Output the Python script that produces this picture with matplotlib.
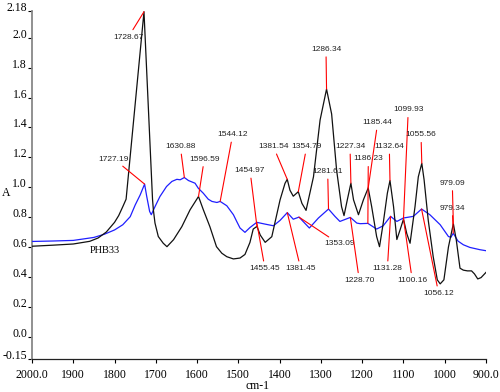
import matplotlib
matplotlib.use("Agg")
import matplotlib.pyplot as plt
import numpy as np

# spettro nero (campione)
black_wn = [2000, 1950, 1900, 1860, 1840, 1820, 1800, 1790, 1780, 1772, 1728.67, 1708, 1706, 1702,
            1694, 1682, 1673, 1657, 1637, 1617, 1596.59, 1585, 1569, 1553, 1540, 1528, 1512, 1496,
            1484, 1472, 1464, 1454.97, 1447, 1435, 1419, 1399, 1387, 1381.54, 1375, 1367, 1354.79,
            1346, 1336, 1318, 1302, 1286.34, 1274, 1262, 1250, 1244, 1236, 1227.34, 1221, 1209,
            1197, 1185.44, 1177, 1165, 1158, 1149, 1139, 1132.64, 1124, 1116, 1108, 1099.93, 1092,
            1084, 1072, 1064, 1055.56, 1050, 1040, 1028, 1018, 1011, 1002, 991, 979.09, 972, 963,
            955, 945, 935, 928, 920, 912, 900]
black_abs = [0.605, 0.612, 0.62, 0.638, 0.66, 0.70, 0.765, 0.81, 0.87, 0.92, 2.175, 0.92, 0.85, 0.76,
             0.67, 0.625, 0.602, 0.649, 0.736, 0.849, 0.938, 0.85, 0.736, 0.602, 0.558, 0.535, 0.52,
             0.526, 0.55, 0.63, 0.72, 0.738, 0.68, 0.631, 0.669, 0.915, 1.026, 1.053, 0.98, 0.94,
             0.97, 0.892, 0.845, 1.07, 1.45, 1.657, 1.49, 1.115, 0.87, 0.81, 0.916, 1.027, 0.916,
             0.816, 0.916, 0.995, 0.87, 0.67, 0.602, 0.76, 0.96, 1.045, 0.87, 0.65, 0.716, 0.786,
             0.69, 0.625, 0.87, 1.07, 1.16, 1.05, 0.78, 0.536, 0.38, 0.353, 0.38, 0.60, 0.756,
             0.647, 0.458, 0.445, 0.44, 0.44, 0.42, 0.386, 0.395, 0.43]

# spettro blu (riferimento)
blue_wn = [2000, 1950, 1900, 1850, 1825, 1800, 1780, 1762, 1750, 1738, 1727.19, 1722, 1715, 1711,
           1702, 1690, 1674, 1661, 1649, 1641, 1630.88, 1621, 1605, 1597, 1585, 1573, 1564, 1552,
           1544.12, 1528, 1512, 1504, 1496, 1484, 1472, 1455.45, 1435, 1415, 1399, 1381.45, 1367,
           1353.09, 1328, 1306, 1281.61, 1266, 1254, 1228.70, 1213, 1205, 1186.23, 1165, 1149,
           1131.28, 1116, 1100.16, 1076, 1056.12, 1036, 1011, 991, 985, 979.34, 968, 955, 939,
           915, 900]
blue_abs = [0.637, 0.64, 0.644, 0.664, 0.685, 0.714, 0.749, 0.803, 0.881, 0.948, 1.021, 0.938, 0.838,
            0.816, 0.87, 0.938, 1.005, 1.039, 1.053, 1.05, 1.065, 1.045, 1.027, 0.993, 0.96, 0.92,
            0.905, 0.898, 0.905, 0.876, 0.816, 0.771, 0.727, 0.698, 0.73, 0.765, 0.753, 0.742,
            0.778, 0.83, 0.786, 0.80, 0.727, 0.794, 0.854, 0.805, 0.771, 0.798, 0.76, 0.756,
            0.758, 0.72, 0.742, 0.805, 0.771, 0.794, 0.805, 0.854, 0.816, 0.749, 0.67, 0.665,
            0.692, 0.64, 0.615, 0.597, 0.582, 0.575]

# etichette dei picchi: testo, curva, posizione del testo (cm-1, A)
peak_labels = ["1728.67", "1727.19", "1630.88", "1596.59", "1544.12", "1454.97", "1381.54",
               "1354.79", "1286.34", "1281.61", "1227.34", "1186.23", "1185.44", "1132.64",
               "1099.93", "1055.56", "979.09", "979.34", "1455.45", "1381.45", "1353.09",
               "1228.70", "1131.28", "1100.16", "1056.12"]
peak_curve = ["k", "b", "b", "k", "b", "k", "k", "k", "k", "b", "k", "b", "k", "k", "k", "k",
              "k", "b", "b", "b", "b", "b", "b", "b", "b"]
label_x = [1766.7, 1801.3, 1640.7, 1582.5, 1513.7, 1471.8, 1415.4, 1334.4, 1287.7, 1283.6,
           1229.5, 1185.2, 1162.4, 1134.3, 1088.3, 1057.5, 981.7, 981.7, 1435.5, 1349.0,
           1255.4, 1207.0, 1139.0, 1078.6, 1014.6]
label_y = [2.005, 1.189, 1.273, 1.189, 1.353, 1.112, 1.273, 1.273, 1.924, 1.106, 1.273, 1.19,
           1.433, 1.273, 1.518, 1.351, 1.028, 0.861, 0.455, 0.455, 0.62, 0.377, 0.455, 0.377,
           0.288]

y_ticks = [-0.15, 0.0, 0.2, 0.4, 0.6, 0.8, 1.0, 1.2, 1.4, 1.6, 1.8, 2.0, 2.18]
y_tick_labels = ["-0.15", "0.0", "0.2", "0.4", "0.6", "0.8", "1.0", "1.2", "1.4", "1.6", "1.8",
                 "2.0", "2.18"]
x_ticks = [2000, 1900, 1800, 1700, 1600, 1500, 1400, 1300, 1200, 1100, 1000, 900]
x_tick_labels = ["2000.0", "1900", "1800", "1700", "1600", "1500", "1400", "1300", "1200",
                 "1100", "1000", "900.0"]

serif = "Liberation Serif"
sans = "Liberation Sans"

fig = plt.figure(figsize=(5.0, 3.92), dpi=100)
ax = fig.add_axes([32 / 500, 1 - 359 / 392, 454 / 500, 348 / 392])

ax.plot(blue_wn, blue_abs, color="#1f1fff", lw=0.9, zorder=3)
ax.plot(black_wn, black_abs, color="#111111", lw=0.9, zorder=4)

# annotazioni con linee rosse verso i picchi
for lab, cv, tx, ty in zip(peak_labels, peak_curve, label_x, label_y):
    wn = float(lab)
    if cv == "k":
        yy = np.interp(wn, black_wn[::-1], black_abs[::-1])
    else:
        yy = np.interp(wn, blue_wn[::-1], blue_abs[::-1])
    ax.annotate(lab, xy=(wn, yy), xytext=(tx, ty), textcoords="data",
                ha="center", va="center", fontsize=6, family=sans, color="#222222",
                arrowprops=dict(arrowstyle="-", color="red", lw=0.8, shrinkA=1, shrinkB=0),
                zorder=5)

ax.text(1823, 0.577, "PHB33", family=serif, fontsize=7.5, ha="center", va="center")

ax.set_xlim(2000, 900)
ax.set_ylim(-0.15, 2.18)
ax.set_xticks(x_ticks)
ax.set_xticklabels(x_tick_labels, family=serif, fontsize=8.5)
ax.set_yticks(y_ticks)
ax.set_yticklabels(y_tick_labels, family=serif, fontsize=8.5)
for lbl in ax.get_yticklabels():
    lbl.set_verticalalignment("baseline")

ax.tick_params(axis="y", direction="out", length=3, width=0.8, pad=0.5)
ax.tick_params(axis="x", direction="out", length=3, width=0.8, pad=4)

ax.spines["top"].set_visible(False)
ax.spines["right"].set_visible(False)
ax.spines["left"].set_color("#888888")
ax.spines["left"].set_linewidth(1.3)
ax.spines["bottom"].set_color("#222222")
ax.spines["bottom"].set_linewidth(0.9)

fig.text(6.5 / 500, 1 - 193 / 392, "A", family=serif, fontsize=8.5, ha="center", va="center")
fig.text(257 / 500, 1 - 386 / 392, "cm-1", family=serif, fontsize=8.5, ha="center", va="center")

fig.savefig("out.png", dpi=100)
